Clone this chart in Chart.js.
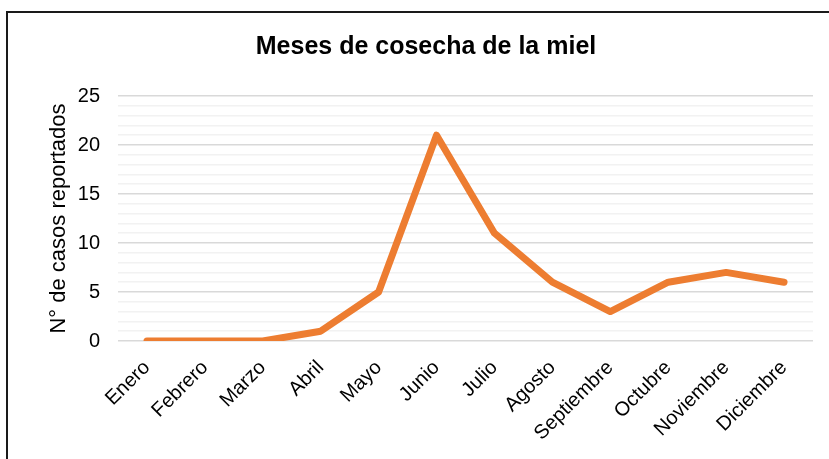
<!DOCTYPE html>
<html>
<head>
<meta charset="utf-8">
<script src="https://cdn.jsdelivr.net/npm/chart.js@4"></script>
<style>
  body { margin: 0; background: #fff; overflow: hidden; }
  #frame {
    position: absolute; left: 6px; top: 11px;
    width: 840px; height: 470px;
    border: 2px solid #1a1a1a;
  }
  #chart { position: absolute; left: 0; top: 0; }
</style>
</head>
<body>
<div id="frame"></div>
<canvas id="chart" width="829" height="459"></canvas>
<script>
// Months on the x axis
const months = ["Enero", "Febrero", "Marzo", "Abril", "Mayo", "Junio",
    "Julio", "Agosto", "Septiembre", "Octubre", "Noviembre", "Diciembre"];

// Number of reported cases per month
const cases = [0, 0, 0, 1, 5, 21, 11, 6, 3, 6, 7, 6];

// Y axis range and labelled ticks
const yMin = 0;
const yMax = 25;
const yLabelStep = 5;

const font = "'Liberation Sans', Arial, sans-serif";

new Chart(document.getElementById("chart"), {
    type: "line",
    data: {
        labels: months,
        datasets: [{
            data: cases,
            borderColor: "#ED7D31",
            backgroundColor: "#ED7D31",
            borderWidth: 7,
            borderCapStyle: "round",
            borderJoinStyle: "round",
            pointRadius: 0,
            tension: 0
        }]
    },
    options: {
        responsive: false,
        animation: false,
        // left padding pushes the title centre to the middle of the frame
        layout: { padding: { top: 0, right: 16, bottom: 0, left: 39 } },
        plugins: {
            legend: { display: false },
            tooltip: { enabled: false },
            title: {
                display: true,
                text: "Meses de cosecha de la miel",
                color: "#000",
                font: { family: font, size: 25, weight: "bold" },
                padding: { top: 32, bottom: 34 }
            }
        },
        scales: {
            x: {
                offset: true,
                grid: { display: false },
                border: { display: false },
                ticks: {
                    color: "#000",
                    font: { family: font, size: 20 },
                    minRotation: 45,
                    maxRotation: 45,
                    autoSkip: false,
                    padding: 7
                },
                afterFit: scale => { scale.height = 118; }
            },
            y: {
                min: yMin,
                max: yMax,
                border: { display: false },
                grid: {
                    drawTicks: false,
                    lineWidth: 1.5,
                    color: ctx => ctx.tick.value % yLabelStep === 0 ? "#d9d9d9" : "#f2f2f2"
                },
                ticks: {
                    stepSize: 1,
                    autoSkip: false,
                    color: "#000",
                    font: { family: font, size: 20 },
                    padding: 18,
                    callback: v => v % yLabelStep === 0 ? v : ""
                },
                title: {
                    display: true,
                    text: "N° de casos reportados",
                    color: "#000",
                    font: { family: font, size: 22 },
                    padding: { top: 7, bottom: 0 }
                },
                afterFit: scale => { scale.width = 79; }
            }
        }
    }
});
</script>
</body>
</html>
